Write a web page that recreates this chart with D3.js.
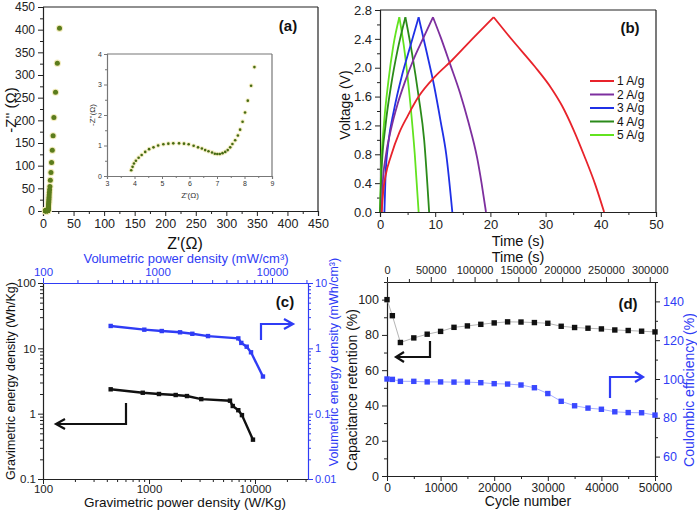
<!DOCTYPE html>
<html><head><meta charset="utf-8">
<script src="https://cdn.jsdelivr.net/npm/d3@7"></script>
<style>body{margin:0;background:#fff}svg{display:block}text{font-family:"Liberation Sans",Arial,sans-serif}</style>
</head><body>
<svg id="c" width="697" height="512"></svg>
<script>
// ---------- DATA ----------
// (a) Nyquist plot: low-frequency region (inset) and capacitive spike
const eisLowRe = [3.88,3.93,3.98,4.05,4.15,4.26,4.39,4.53,4.69,4.86,5.05,5.23,5.41,5.62,5.80,5.97,6.15,6.31,6.45,6.57,6.69,6.82,6.92,7.01,7.10,7.20,7.30,7.39,7.48,7.56,7.66,7.76,7.84,7.93,8.02,8.12,8.24,8.36];
const eisLowIm = [0.19,0.30,0.41,0.50,0.60,0.69,0.79,0.88,0.94,1.00,1.04,1.06,1.07,1.07,1.06,1.04,0.99,0.94,0.90,0.85,0.81,0.77,0.73,0.72,0.72,0.75,0.79,0.85,0.94,1.05,1.17,1.33,1.52,1.78,2.08,2.47,2.96,3.57];
const eisHighRe = [8.5,8.6,8.7,8.8,8.95,9.1,9.25,9.4,9.55,9.7,9.9,10.1,10.4,10.8,11.3,12.0,13.0,14.0,15.2,16.5,17.8,20.5,23.5,27.0];
const eisHighIm = [4.6,5.8,7.2,8.8,10.8,13,15.5,18.5,22,26,30.5,35.5,41,47,54,68,85,107,134,166,206,262,326,403];

// (b) galvanostatic charge/discharge
const gcdLabels = ["1 A/g","2 A/g","3 A/g","4 A/g","5 A/g"];
const gcdColors = ["#e8232b","#7d2f9e","#1f30e6","#2b8a1a","#62e31f"];
const gcdChargeT = [
  [0.3,0.6,1,2,3.5,5,7,10,13,17,20.6],
  [0.3,0.5,1,2,3.2,4.5,6,7.9,9.6],
  [0.8,1.0,1.5,2.5,4,5.5,7.0],
  [0,0.3,1,2,3.2,4.6],
  [0,0.2,0.7,1.5,2.4,3.5]];
const gcdChargeV = [
  [0,0.3,0.5,0.78,1.1,1.33,1.6,1.88,2.1,2.42,2.7],
  [0,0.4,0.75,1.15,1.5,1.8,2.1,2.42,2.7],
  [0,0.5,0.95,1.4,1.9,2.3,2.7],
  [0,0.6,1.2,1.75,2.25,2.7],
  [0,0.6,1.2,1.8,2.3,2.7]];
const gcdDischargeT = [
  [20.6,24,28,31,33,35,37,39,40.6],
  [9.6,11,12.7,14.5,16,17.6,18.4,19.2],
  [7.0,8.5,9.8,11,12,13.1],
  [4.6,5.8,7.0,8.0,8.9],
  [3.5,4.5,5.5,6.3,7.0]];
const gcdDischargeV = [
  [2.7,2.38,2.02,1.72,1.47,1.15,0.78,0.38,0],
  [2.7,2.42,2.05,1.65,1.25,0.75,0.4,0],
  [2.7,2.2,1.75,1.25,0.8,0],
  [2.7,2.2,1.6,1.0,0],
  [2.7,2.2,1.5,0.8,0]];

// (c) Ragone plot
const gravPower  = [435,873,1242,1786,2281,3112,5808,6166,6957,7530,9570];
const gravEnergy = [2.36,2.09,2.00,1.93,1.86,1.67,1.58,1.31,1.13,0.95,0.40];
const volPower   = [390,767,1089,1574,2014,2761,5080,5395,6012,6557,8338];
const volEnergy  = [2.20,1.93,1.84,1.76,1.67,1.54,1.42,1.21,1.06,0.87,0.37];

// (d) cycling stability
const cycles    = [0,1000,2500,5000,7500,10000,12500,15000,17500,20000,22500,25000,27500,30000,32500,35000,37500,40000,42500,45000,47500,50000];
const retention = [100,90.9,75.7,78.3,80.4,82.0,84.3,85.1,86.0,86.8,87.4,87.3,87.0,86.6,84.9,84.2,83.8,83.4,82.8,82.5,82.1,81.7];
const coulombic = [100,99.8,98.8,98.8,98.5,98.5,98.4,98.4,98.1,97.6,97.4,96.9,95.5,92.5,88.5,86.2,85.0,84.4,83.1,82.7,82.6,81.4];

// ---------- DRAW ----------
const svg = d3.select("#c");
const BLUE = "#2f3cf5";
const FONT = '"Liberation Sans",Arial,sans-serif';

function styleAxis(g, color, fs){
  g.selectAll("path.domain").attr("stroke", color).attr("stroke-width",1.2);
  g.selectAll(".tick line").attr("stroke", color).attr("stroke-width",1);
  g.selectAll("text").attr("fill", color).style("font-size", fs+"px").style("font-family",FONT);
}
function axis(gen, x, y, color, fs){
  const g = svg.append("g").attr("transform",`translate(${x},${y})`).call(gen);
  styleAxis(g, color, fs); return g;
}
function minor(gen, x, y, color){
  const g = svg.append("g").attr("transform",`translate(${x},${y})`).call(gen.tickFormat("").tickSize(3));
  g.select("path.domain").remove();
  g.selectAll(".tick line").attr("stroke", color);
  return g;
}
function text(x,y,s,opt={}){
  const t = svg.append("text").attr("x",x).attr("y",y).attr("text-anchor",opt.anchor||"middle")
    .attr("dominant-baseline","central").style("font-size",(opt.fs||14)+"px")
    .attr("fill",opt.color||"#111").style("font-weight",opt.bold?"bold":"normal");
  if(opt.rot) t.attr("transform",`rotate(${opt.rot},${x},${y})`);
  t.text(s); return t;
}
function frameLine(x1,y1,x2,y2,color){
  svg.append("line").attr("x1",x1).attr("y1",y1).attr("x2",x2).attr("y2",y2).attr("stroke",color||"#222").attr("stroke-width",1.2);
}
function arrow(pts, head, color){
  svg.append("polyline").attr("points",pts.map(p=>p.join(",")).join(" ")).attr("fill","none").attr("stroke",color).attr("stroke-width",2.2);
  svg.append("polyline").attr("points",head.map(p=>p.join(",")).join(" ")).attr("fill","none").attr("stroke",color).attr("stroke-width",2.2);
}
const range = (a,b,s)=>d3.range(a,b+s/2,s);

// ===== (a) =====
{
  const x = d3.scaleLinear().domain([0,450]).range([43,318]);
  const y = d3.scaleLinear().domain([0,450]).range([211,7]);
  frameLine(43,7,318,7); frameLine(318,7,318,211);
  minor(d3.axisBottom(x).tickValues(range(25,425,50)),0,211,"#222");
  minor(d3.axisLeft(y).tickValues(range(25,425,50)),43,0,"#222");
  axis(d3.axisBottom(x).tickValues(range(0,450,50)).tickSize(5).tickPadding(3),0,211,"#222",12.5);
  axis(d3.axisLeft(y).tickValues(range(0,450,50)).tickSize(5).tickPadding(3),43,0,"#222",12);
  text(185,243,"Z'(Ω)",{fs:16});
  text(10,110,"-Z'' (Ω)",{fs:15,rot:-90});
  text(288,25,"(a)",{fs:15,bold:true});
  const re = eisLowRe.concat(eisHighRe), im = eisLowIm.concat(eisHighIm);
  const pts = re.map((v,i)=>[v,im[i]]);
  svg.append("g").selectAll("circle").data(pts).join("circle")
    .attr("cx",d=>x(d[0])).attr("cy",d=>y(d[1])).attr("r",3.6).attr("fill","#f3ebbd");
  svg.append("g").selectAll("circle").data(pts).join("circle")
    .attr("cx",d=>x(d[0])).attr("cy",d=>y(d[1])).attr("r",2.5).attr("fill","#5b7c1c");

  // inset
  const xi = d3.scaleLinear().domain([3,9]).range([107,272]);
  const yi = d3.scaleLinear().domain([0,4]).range([176,54]);
  svg.append("rect").attr("x",107).attr("y",54).attr("width",165).attr("height",122).attr("fill","#fff");
  frameLine(107,54,272,54,"#777"); frameLine(272,54,272,176,"#777");
  minor(d3.axisBottom(xi).tickValues(range(3.5,8.5,1)).tickSizeOuter(0),0,176,"#777").selectAll(".tick line").attr("y2",2);
  minor(d3.axisLeft(yi).tickValues(range(0.5,3.5,1)).tickSizeOuter(0),107,0,"#777").selectAll(".tick line").attr("x2",-2);
  axis(d3.axisBottom(xi).tickValues(range(3,9,1)).tickFormat(d3.format("d")).tickSize(3).tickPadding(2),0,176,"#777",7).selectAll("text").attr("fill","#333");
  axis(d3.axisLeft(yi).tickValues(range(0,4,1)).tickFormat(d3.format("d")).tickSize(3).tickPadding(2),107,0,"#777",7).selectAll("text").attr("fill","#333");
  text(190,195,"Z'(Ω)",{fs:8,color:"#333"});
  text(92,115,"-Z''(Ω)",{fs:8,color:"#333",rot:-90});
  const ipts = eisLowRe.map((v,i)=>[v,eisLowIm[i]]);
  svg.append("g").selectAll("circle").data(ipts).join("circle")
    .attr("cx",d=>xi(d[0])).attr("cy",d=>yi(d[1])).attr("r",2.4).attr("fill","#f6eec6");
  svg.append("g").selectAll("circle").data(ipts).join("circle")
    .attr("cx",d=>xi(d[0])).attr("cy",d=>yi(d[1])).attr("r",1.3).attr("fill","#466b12");
}

// ===== (b) =====
{
  const x = d3.scaleLinear().domain([0,50]).range([380,656]);
  const y = d3.scaleLinear().domain([0,2.8]).range([212,10]);
  frameLine(380,10,656,10); frameLine(656,10,656,212);
  minor(d3.axisBottom(x).tickValues(range(5,45,10)),0,212,"#222");
  minor(d3.axisLeft(y).tickValues(range(0.2,2.6,0.4)),380,0,"#222");
  axis(d3.axisBottom(x).tickValues(range(0,50,10)).tickSize(5).tickPadding(3),0,212,"#222",13);
  axis(d3.axisLeft(y).tickValues(range(0,2.8,0.4)).tickFormat(d3.format(".1f")).tickSize(5).tickPadding(3),380,0,"#222",13);
  text(518,241,"Time (s)",{fs:14.5});
  text(345,105,"Voltage (V)",{fs:14,rot:-90});
  text(630,27,"(b)",{fs:15,bold:true});
  const line = d3.line().x(d=>x(d[0])).y(d=>y(d[1])).curve(d3.curveMonotoneX);
  for(let i=gcdLabels.length-1;i>=0;i--){
    const c = gcdChargeT[i].map((t,k)=>[t,gcdChargeV[i][k]]);
    const dch = gcdDischargeT[i].map((t,k)=>[t,gcdDischargeV[i][k]]);
    svg.append("path").attr("d",line(c)).attr("fill","none").attr("stroke",gcdColors[i]).attr("stroke-width",1.8);
    svg.append("path").attr("d",line(dch)).attr("fill","none").attr("stroke",gcdColors[i]).attr("stroke-width",1.8);
  }
  gcdLabels.forEach((l,i)=>{
    const yy = 81 + i*13.5;
    svg.append("line").attr("x1",590).attr("x2",614).attr("y1",yy).attr("y2",yy).attr("stroke",gcdColors[i]).attr("stroke-width",2);
    text(617,yy,l,{fs:12,anchor:"start"});
  });
}

// ===== (c) =====
{
  const x = d3.scaleLog().domain([100,31623]).range([43,308]);
  const xt = d3.scaleLog().domain([100,Math.pow(10,2+265/114.5)]).range([43,308]);
  const y = d3.scaleLog().domain([0.1,100]).range([479,283]);
  const yr = d3.scaleLog().domain([0.01,10]).range([479,283]);
  const minorsOf = (a,b)=>{const r=[];for(let e=a;e<b;e++)for(let m=2;m<=9;m++){r.push(m*Math.pow(10,e));}return r;};
  const fmt = d=>String(d);
  minor(d3.axisBottom(x).tickValues(minorsOf(2,5).filter(v=>v<=31623)),0,479,"#222");
  minor(d3.axisLeft(y).tickValues(minorsOf(-1,2)),43,0,"#222");
  minor(d3.axisTop(xt).tickValues(minorsOf(2,5).filter(v=>v<=20600)),0,283,BLUE);
  minor(d3.axisRight(yr).tickValues(minorsOf(-2,1)),308,0,BLUE);
  axis(d3.axisBottom(x).tickValues([100,1000,10000]).tickFormat(fmt).tickSize(5).tickPadding(1).tickSizeOuter(0),0,479,"#222",11.5);
  axis(d3.axisLeft(y).tickValues([0.1,1,10,100]).tickFormat(fmt).tickSize(5).tickPadding(2).tickSizeOuter(0),43,0,"#222",11.5);
  axis(d3.axisTop(xt).tickValues([100,1000,10000]).tickFormat(fmt).tickSize(5).tickPadding(2).tickSizeOuter(0),0,283,BLUE,11.5);
  axis(d3.axisRight(yr).tickValues([0.01,0.1,1,10]).tickFormat(fmt).tickSize(5).tickPadding(2).tickSizeOuter(0),308,0,BLUE,11);
  text(185,502,"Gravimetric power density (W/Kg)",{fs:13.5});
  text(186,258,"Volumetric power density (mW/cm³)",{fs:13,color:BLUE});
  text(11,381,"Gravimetric energy density (Wh/Kg)",{fs:12.5,rot:-90});
  text(334,362,"Volumetric energy density (mWh/cm³)",{fs:12.5,rot:-90,color:BLUE});
  text(285,301,"(c)",{fs:15,bold:true});
  const lb = d3.line().x(d=>x(d[0])).y(d=>y(d[1]));
  const gp = gravPower.map((v,i)=>[v,gravEnergy[i]]);
  svg.append("path").attr("d",lb(gp)).attr("fill","none").attr("stroke","#111").attr("stroke-width",2.4);
  svg.append("g").selectAll("rect").data(gp).join("rect").attr("x",d=>x(d[0])-2.2).attr("y",d=>y(d[1])-2.2).attr("width",4.4).attr("height",4.4).attr("fill","#111");
  const lv = d3.line().x(d=>xt(d[0])).y(d=>yr(d[1]));
  const vp = volPower.map((v,i)=>[v,volEnergy[i]]);
  svg.append("path").attr("d",lv(vp)).attr("fill","none").attr("stroke",BLUE).attr("stroke-width",2.4);
  svg.append("g").selectAll("rect").data(vp).join("rect").attr("x",d=>xt(d[0])-2.2).attr("y",d=>yr(d[1])-2.2).attr("width",4.4).attr("height",4.4).attr("fill",BLUE);
  arrow([[126,403],[126,424],[56,424]],[[65,419],[56,424],[65,429]],"#111");
  arrow([[261,340],[261,324],[293,324]],[[284,319],[293,324],[284,329]],BLUE);
}

// ===== (d) =====
{
  const x = d3.scaleLinear().domain([0,50000]).range([387,655]);
  const xt = d3.scaleLinear().domain([0,306000]).range([387,655]);
  const y = d3.scaleLinear().domain([0,110]).range([476,282]);
  const yr = d3.scaleLinear().domain([50,150]).range([476,282]);
  const f = d3.format("d");
  minor(d3.axisBottom(x).tickValues(range(5000,45000,10000)),0,476,"#222");
  minor(d3.axisLeft(y).tickValues(range(10,110,20)),387,0,"#222");
  minor(d3.axisTop(xt).tickValues(range(25000,275000,50000)),0,282,"#222");
  minor(d3.axisRight(yr).tickValues(range(50,150,20)),655,0,"#222");
  axis(d3.axisBottom(x).tickValues(range(0,50000,10000)).tickFormat(f).tickSize(5).tickPadding(2).tickSizeOuter(0),0,476,"#222",12);
  axis(d3.axisLeft(y).tickValues(range(0,100,20)).tickFormat(f).tickSize(5).tickPadding(3).tickSizeOuter(0),387,0,"#222",12.5);
  axis(d3.axisTop(xt).tickValues(range(0,300000,50000)).tickFormat(f).tickSize(5).tickPadding(3).tickSizeOuter(0),0,282,"#222",11);
  axis(d3.axisRight(yr).tickValues(range(60,140,20)).tickFormat(f).tickSize(5).tickPadding(3).tickSizeOuter(0),655,0,"#222",12.5).selectAll("text").attr("fill",BLUE);
  text(528,501,"Cycle number",{fs:14});
  text(518,257,"Time (s)",{fs:14.5});
  text(352,390,"Capacitance retention (%)",{fs:14,rot:-90});
  text(689,390,"Coulombic efficiency (%)",{fs:14,rot:-90,color:BLUE});
  text(628,303,"(d)",{fs:15,bold:true});
  const lr = d3.line().x(d=>x(d[0])).y(d=>y(d[1]));
  const rp = cycles.map((c,i)=>[c,retention[i]]);
  svg.append("path").attr("d",lr(rp)).attr("fill","none").attr("stroke","#b5b5b5").attr("stroke-width",1);
  svg.append("g").selectAll("rect").data(rp).join("rect").attr("x",d=>x(d[0])-2.7).attr("y",d=>y(d[1])-2.7).attr("width",5.4).attr("height",5.4).attr("fill","#111");
  const lc = d3.line().x(d=>x(d[0])).y(d=>yr(d[1]));
  const cp = cycles.map((c,i)=>[c,coulombic[i]]);
  svg.append("path").attr("d",lc(cp)).attr("fill","none").attr("stroke","#a8b0ff").attr("stroke-width",1);
  svg.append("g").selectAll("rect").data(cp).join("rect").attr("x",d=>x(d[0])-2.7).attr("y",d=>yr(d[1])-2.7).attr("width",5.4).attr("height",5.4).attr("fill","#3a48ff");
  arrow([[430,341],[430,357],[396,357]],[[404,352],[396,357],[404,362]],"#111");
  arrow([[610,398],[610,377],[643,377]],[[635,372],[643,377],[635,382]],BLUE);
}
</script>
</body></html>
